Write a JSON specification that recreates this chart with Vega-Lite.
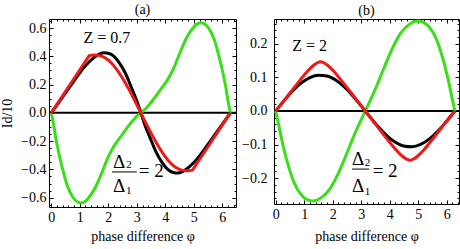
{
 "$schema": "https://vega.github.io/schema/vega-lite/v6.json",
 "padding": {"left": 0, "top": 2, "right": 0, "bottom": 0},
 "spacing": 3,
 "config": {
  "view": {"stroke": "black", "strokeWidth": 1},
  "font": "Liberation Serif",
  "axis": {"labelFont": "Liberation Serif", "titleFont": "Liberation Serif", "labelFontSize": 14, "titleFontSize": 14, "titleFontWeight": "normal", "labelColor": "black", "titleColor": "black", "tickColor": "black", "tickWidth": 1, "grid": false, "domain": false, "labelFlush": false, "labelOverlap": false},
  "title": {"font": "Liberation Serif", "fontSize": 14, "fontWeight": "normal", "color": "black", "offset": -3},
  "line": {"strokeWidth": 3, "interpolate": "monotone"}
 },
 "datasets": {
  "a": [
   {"p":0,"v":0,"c":"g"},{"p":0.08,"v":-0.08,"c":"g"},{"p":0.16,"v":-0.18,"c":"g"},{"p":0.28,"v":-0.3,"c":"g"},{"p":0.4,"v":-0.4,"c":"g"},{"p":0.57,"v":-0.52,"c":"g"},{"p":0.75,"v":-0.595,"c":"g"},{"p":0.9,"v":-0.628,"c":"g"},{"p":1.04,"v":-0.638,"c":"g"},{"p":1.2,"v":-0.625,"c":"g"},{"p":1.35,"v":-0.59,"c":"g"},{"p":1.54,"v":-0.53,"c":"g"},{"p":1.75,"v":-0.435,"c":"g"},{"p":1.98,"v":-0.32,"c":"g"},{"p":2.2,"v":-0.235,"c":"g"},{"p":2.45,"v":-0.165,"c":"g"},{"p":2.7,"v":-0.095,"c":"g"},{"p":2.9,"v":-0.045,"c":"g"},{"p":3.05,"v":-0.015,"c":"g"},{"p":3.1416,"v":0,"c":"g"},{"p":3.2332,"v":0.015,"c":"g"},{"p":3.3832,"v":0.045,"c":"g"},{"p":3.5832,"v":0.095,"c":"g"},{"p":3.8332,"v":0.165,"c":"g"},{"p":4.0832,"v":0.235,"c":"g"},{"p":4.3032,"v":0.32,"c":"g"},{"p":4.5332,"v":0.435,"c":"g"},{"p":4.7432,"v":0.53,"c":"g"},{"p":4.9332,"v":0.59,"c":"g"},{"p":5.0832,"v":0.625,"c":"g"},{"p":5.2432,"v":0.638,"c":"g"},{"p":5.3832,"v":0.628,"c":"g"},{"p":5.5332,"v":0.595,"c":"g"},{"p":5.7132,"v":0.52,"c":"g"},{"p":5.8832,"v":0.4,"c":"g"},{"p":6.0032,"v":0.3,"c":"g"},{"p":6.1232,"v":0.18,"c":"g"},{"p":6.2032,"v":0.08,"c":"g"},{"p":6.2832,"v":0,"c":"g"},
   {"p":0,"v":0,"c":"k"},{"p":0.3,"v":0.085,"c":"k"},{"p":0.6,"v":0.17,"c":"k"},{"p":0.9,"v":0.255,"c":"k"},{"p":1.1,"v":0.31,"c":"k"},{"p":1.3,"v":0.355,"c":"k"},{"p":1.5,"v":0.392,"c":"k"},{"p":1.7,"v":0.418,"c":"k"},{"p":1.85,"v":0.426,"c":"k"},{"p":2.0,"v":0.422,"c":"k"},{"p":2.2,"v":0.4,"c":"k"},{"p":2.4,"v":0.35,"c":"k"},{"p":2.6,"v":0.28,"c":"k"},{"p":2.8,"v":0.185,"c":"k"},{"p":3.0,"v":0.085,"c":"k"},{"p":3.1416,"v":0,"c":"k"},{"p":3.2832,"v":-0.085,"c":"k"},{"p":3.4832,"v":-0.185,"c":"k"},{"p":3.6832,"v":-0.28,"c":"k"},{"p":3.8832,"v":-0.35,"c":"k"},{"p":4.0832,"v":-0.4,"c":"k"},{"p":4.2832,"v":-0.422,"c":"k"},{"p":4.4332,"v":-0.426,"c":"k"},{"p":4.5832,"v":-0.418,"c":"k"},{"p":4.7832,"v":-0.392,"c":"k"},{"p":4.9832,"v":-0.355,"c":"k"},{"p":5.1832,"v":-0.31,"c":"k"},{"p":5.3832,"v":-0.255,"c":"k"},{"p":5.6832,"v":-0.17,"c":"k"},{"p":5.9832,"v":-0.085,"c":"k"},{"p":6.2832,"v":0,"c":"k"},
   {"p":0,"v":0,"c":"r"},{"p":0.665,"v":0.2025,"c":"r"},{"p":1.2,"v":0.3654,"c":"r"},{"p":1.3,"v":0.3959,"c":"r"},{"p":1.33,"v":0.405,"c":"r"},{"p":1.5,"v":0.41,"c":"r"},{"p":1.7,"v":0.405,"c":"r"},{"p":1.9,"v":0.388,"c":"r"},{"p":2.1,"v":0.355,"c":"r"},{"p":2.3,"v":0.306,"c":"r"},{"p":2.5,"v":0.245,"c":"r"},{"p":2.7,"v":0.175,"c":"r"},{"p":2.9,"v":0.098,"c":"r"},{"p":3.1416,"v":0,"c":"r"},{"p":3.3832,"v":-0.098,"c":"r"},{"p":3.5832,"v":-0.175,"c":"r"},{"p":3.7832,"v":-0.245,"c":"r"},{"p":3.9832,"v":-0.306,"c":"r"},{"p":4.1832,"v":-0.355,"c":"r"},{"p":4.3832,"v":-0.388,"c":"r"},{"p":4.5832,"v":-0.405,"c":"r"},{"p":4.7832,"v":-0.41,"c":"r"},{"p":4.9532,"v":-0.405,"c":"r"},{"p":4.9832,"v":-0.3959,"c":"r"},{"p":5.0832,"v":-0.3654,"c":"r"},{"p":5.6182,"v":-0.2025,"c":"r"},{"p":6.2832,"v":0,"c":"r"}
  ],
  "b": [
   {"p":0,"v":0,"c":"g"},{"p":0.1,"v":-0.04,"c":"g"},{"p":0.25,"v":-0.1,"c":"g"},{"p":0.45,"v":-0.165,"c":"g"},{"p":0.65,"v":-0.215,"c":"g"},{"p":0.9,"v":-0.25,"c":"g"},{"p":1.1,"v":-0.264,"c":"g"},{"p":1.3,"v":-0.268,"c":"g"},{"p":1.6,"v":-0.258,"c":"g"},{"p":1.9,"v":-0.232,"c":"g"},{"p":2.2,"v":-0.185,"c":"g"},{"p":2.5,"v":-0.125,"c":"g"},{"p":2.8,"v":-0.063,"c":"g"},{"p":3.1416,"v":0,"c":"g"},{"p":3.4832,"v":0.063,"c":"g"},{"p":3.7832,"v":0.125,"c":"g"},{"p":4.0832,"v":0.185,"c":"g"},{"p":4.3832,"v":0.232,"c":"g"},{"p":4.6832,"v":0.258,"c":"g"},{"p":4.9832,"v":0.268,"c":"g"},{"p":5.1832,"v":0.264,"c":"g"},{"p":5.3832,"v":0.25,"c":"g"},{"p":5.6332,"v":0.215,"c":"g"},{"p":5.8332,"v":0.165,"c":"g"},{"p":6.0332,"v":0.1,"c":"g"},{"p":6.1832,"v":0.04,"c":"g"},{"p":6.2832,"v":0,"c":"g"},
   {"p":0,"v":0,"c":"k"},{"p":0.3,"v":0.0316,"c":"k"},{"p":0.6,"v":0.0604,"c":"k"},{"p":0.9,"v":0.0838,"c":"k"},{"p":1.2,"v":0.0997,"c":"k"},{"p":1.5,"v":0.1067,"c":"k"},{"p":1.8,"v":0.1042,"c":"k"},{"p":2.1,"v":0.0924,"c":"k"},{"p":2.4,"v":0.0723,"c":"k"},{"p":2.7,"v":0.0457,"c":"k"},{"p":3.0,"v":0.0151,"c":"k"},{"p":3.1416,"v":0,"c":"k"},{"p":3.2832,"v":-0.0151,"c":"k"},{"p":3.5832,"v":-0.0457,"c":"k"},{"p":3.8832,"v":-0.0723,"c":"k"},{"p":4.1832,"v":-0.0924,"c":"k"},{"p":4.4832,"v":-0.1042,"c":"k"},{"p":4.7832,"v":-0.1067,"c":"k"},{"p":5.0832,"v":-0.0997,"c":"k"},{"p":5.3832,"v":-0.0838,"c":"k"},{"p":5.6832,"v":-0.0604,"c":"k"},{"p":5.9832,"v":-0.0316,"c":"k"},{"p":6.2832,"v":0,"c":"k"},
   {"p":0,"v":0,"c":"r"},{"p":0.4,"v":0.043,"c":"r"},{"p":0.8,"v":0.086,"c":"r"},{"p":1.1,"v":0.117,"c":"r"},{"p":1.3,"v":0.134,"c":"r"},{"p":1.45,"v":0.143,"c":"r"},{"p":1.5708,"v":0.147,"c":"r"},{"p":1.7,"v":0.143,"c":"r"},{"p":1.85,"v":0.134,"c":"r"},{"p":2.05,"v":0.117,"c":"r"},{"p":2.35,"v":0.086,"c":"r"},{"p":2.75,"v":0.043,"c":"r"},{"p":3.1416,"v":0,"c":"r"},{"p":3.5332,"v":-0.043,"c":"r"},{"p":3.9332,"v":-0.086,"c":"r"},{"p":4.2332,"v":-0.117,"c":"r"},{"p":4.4332,"v":-0.134,"c":"r"},{"p":4.5832,"v":-0.143,"c":"r"},{"p":4.7124,"v":-0.147,"c":"r"},{"p":4.8332,"v":-0.143,"c":"r"},{"p":4.9832,"v":-0.134,"c":"r"},{"p":5.1832,"v":-0.117,"c":"r"},{"p":5.4832,"v":-0.086,"c":"r"},{"p":5.8832,"v":-0.043,"c":"r"},{"p":6.2832,"v":0,"c":"r"}
  ]
 },
 "hconcat": [
  {
   "width": 187, "height": 188,
   "title": "(a)",
   "resolve": {"axis": {"x": "independent", "y": "independent"}},
   "layer": [
    {"data": {"values": [{}]}, "mark": {"type": "rule", "color": "black", "strokeWidth": 2}, "encoding": {"y": {"datum": 0, "type": "quantitative", "axis": null}}},
    {"data": {"name": "a"}, "mark": "line", "encoding": {
      "x": {"field": "p", "type": "quantitative", "scale": {"domain": [-0.08, 6.48], "nice": false, "zero": false},
            "axis": {"orient": "bottom", "values": [0,0.2,0.4,0.6,0.8,1,1.2,1.4,1.6,1.8,2,2.2,2.4,2.6,2.8,3,3.2,3.4,3.6,3.8,4,4.2,4.4,4.6,4.8,5,5.2,5.4,5.6,5.8,6,6.2,6.4],
                     "labelExpr": "abs(datum.value-round(datum.value))<0.001 ? format(datum.value,'d') : ''",
                     "tickSize": {"condition": {"test": "abs(datum.value-round(datum.value))<0.001", "value": -4}, "value": -2},
                     "labelPadding": 7, "title": "phase difference φ", "titlePadding": 3}},
      "y": {"field": "v", "type": "quantitative", "scale": {"domain": [-0.666, 0.664], "nice": false, "zero": false},
            "axis": {"orient": "left", "values": [-0.65,-0.6,-0.55,-0.5,-0.45,-0.4,-0.35,-0.3,-0.25,-0.2,-0.15,-0.1,-0.05,0,0.05,0.1,0.15,0.2,0.25,0.3,0.35,0.4,0.45,0.5,0.55,0.6,0.65],
                     "labelExpr": "abs(datum.value*5-round(datum.value*5))<0.001 ? format(datum.value,'.1f') : ''",
                     "tickSize": {"condition": {"test": "abs(datum.value*5-round(datum.value*5))<0.001", "value": -4}, "value": -2},
                     "labelPadding": 7, "title": "Id/10", "titlePadding": 6}},
      "color": {"field": "c", "type": "nominal", "scale": {"domain": ["g","k","r"], "range": ["#3ade1a","#000000","#f01818"]}, "legend": null}
    }},
    {"data": {"name": "a"}, "mark": {"type": "point", "opacity": 0}, "encoding": {
      "x": {"field": "p", "type": "quantitative", "scale": {"domain": [-0.08, 6.48], "nice": false, "zero": false},
            "axis": {"orient": "top", "values": [0,0.2,0.4,0.6,0.8,1,1.2,1.4,1.6,1.8,2,2.2,2.4,2.6,2.8,3,3.2,3.4,3.6,3.8,4,4.2,4.4,4.6,4.8,5,5.2,5.4,5.6,5.8,6,6.2,6.4], "labels": false, "title": null,
                     "tickSize": {"condition": {"test": "abs(datum.value-round(datum.value))<0.001", "value": -4}, "value": -2}}},
      "y": {"field": "v", "type": "quantitative", "scale": {"domain": [-0.666, 0.664], "nice": false, "zero": false},
            "axis": {"orient": "right", "values": [-0.65,-0.6,-0.55,-0.5,-0.45,-0.4,-0.35,-0.3,-0.25,-0.2,-0.15,-0.1,-0.05,0,0.05,0.1,0.15,0.2,0.25,0.3,0.35,0.4,0.45,0.5,0.55,0.6,0.65], "labels": false, "title": null,
                     "tickSize": {"condition": {"test": "abs(datum.value*5-round(datum.value*5))<0.001", "value": -4}, "value": -2}}}
    }},
    {"data": {"values": [{}]}, "mark": {"type": "text", "font": "Liberation Serif", "fontSize": 16, "align": "center", "baseline": "middle", "color": "black"},
     "encoding": {"x": {"datum": 1.95, "type": "quantitative", "axis": null}, "y": {"datum": 0.53, "type": "quantitative", "axis": null}, "text": {"value": "Z = 0.7"}}},
    {"data": {"values": [{}]}, "mark": {"type": "text", "font": "Liberation Serif", "fontSize": 19, "align": "center", "baseline": "middle", "color": "black"},
     "encoding": {"x": {"datum": 2.38, "type": "quantitative", "axis": null}, "y": {"datum": -0.345, "type": "quantitative", "axis": null}, "text": {"value": "Δ"}}},
    {"data": {"values": [{}]}, "mark": {"type": "text", "font": "Liberation Serif", "fontSize": 11, "align": "center", "baseline": "middle", "color": "black"},
     "encoding": {"x": {"datum": 2.73, "type": "quantitative", "axis": null}, "y": {"datum": -0.372, "type": "quantitative", "axis": null}, "text": {"value": "2"}}},
    {"data": {"values": [{}]}, "mark": {"type": "rule", "color": "black", "strokeWidth": 1},
     "encoding": {"x": {"datum": 2.13, "type": "quantitative", "axis": null}, "x2": {"datum": 3.0}, "y": {"datum": -0.418, "type": "quantitative", "axis": null}}},
    {"data": {"values": [{}]}, "mark": {"type": "text", "font": "Liberation Serif", "fontSize": 19, "align": "center", "baseline": "middle", "color": "black"},
     "encoding": {"x": {"datum": 2.38, "type": "quantitative", "axis": null}, "y": {"datum": -0.52, "type": "quantitative", "axis": null}, "text": {"value": "Δ"}}},
    {"data": {"values": [{}]}, "mark": {"type": "text", "font": "Liberation Serif", "fontSize": 11, "align": "center", "baseline": "middle", "color": "black"},
     "encoding": {"x": {"datum": 2.72, "type": "quantitative", "axis": null}, "y": {"datum": -0.555, "type": "quantitative", "axis": null}, "text": {"value": "1"}}},
    {"data": {"values": [{}]}, "mark": {"type": "text", "font": "Liberation Serif", "fontSize": 19, "align": "left", "baseline": "middle", "color": "black"},
     "encoding": {"x": {"datum": 3.07, "type": "quantitative", "axis": null}, "y": {"datum": -0.413, "type": "quantitative", "axis": null}, "text": {"value": "= 2"}}}
   ]
  },
  {
   "width": 185, "height": 185,
   "title": "(b)",
   "resolve": {"axis": {"x": "independent", "y": "independent"}},
   "layer": [
    {"data": {"values": [{}]}, "mark": {"type": "rule", "color": "black", "strokeWidth": 2}, "encoding": {"y": {"datum": 0, "type": "quantitative", "axis": null}}},
    {"data": {"name": "b"}, "mark": "line", "encoding": {
      "x": {"field": "p", "type": "quantitative", "scale": {"domain": [-0.06, 6.43], "nice": false, "zero": false},
            "axis": {"orient": "bottom", "values": [0,0.2,0.4,0.6,0.8,1,1.2,1.4,1.6,1.8,2,2.2,2.4,2.6,2.8,3,3.2,3.4,3.6,3.8,4,4.2,4.4,4.6,4.8,5,5.2,5.4,5.6,5.8,6,6.2,6.4],
                     "labelExpr": "abs(datum.value-round(datum.value))<0.001 ? format(datum.value,'d') : ''",
                     "tickSize": {"condition": {"test": "abs(datum.value-round(datum.value))<0.001", "value": -4}, "value": -2},
                     "labelPadding": 7, "title": "phase difference φ", "titlePadding": 6}},
      "y": {"field": "v", "type": "quantitative", "scale": {"domain": [-0.277, 0.274], "nice": false, "zero": false},
            "axis": {"orient": "left", "values": [-0.26,-0.24,-0.22,-0.2,-0.18,-0.16,-0.14,-0.12,-0.1,-0.08,-0.06,-0.04,-0.02,0,0.02,0.04,0.06,0.08,0.1,0.12,0.14,0.16,0.18,0.2,0.22,0.24,0.26],
                     "labelExpr": "abs(datum.value*10-round(datum.value*10))<0.001 ? format(datum.value,'.1f') : ''",
                     "tickSize": {"condition": {"test": "abs(datum.value*10-round(datum.value*10))<0.001", "value": -4}, "value": -2},
                     "labelPadding": 11, "title": null}},
      "color": {"field": "c", "type": "nominal", "scale": {"domain": ["g","k","r"], "range": ["#3ade1a","#000000","#f01818"]}, "legend": null}
    }},
    {"data": {"name": "b"}, "mark": {"type": "point", "opacity": 0}, "encoding": {
      "x": {"field": "p", "type": "quantitative", "scale": {"domain": [-0.06, 6.43], "nice": false, "zero": false},
            "axis": {"orient": "top", "values": [0,0.2,0.4,0.6,0.8,1,1.2,1.4,1.6,1.8,2,2.2,2.4,2.6,2.8,3,3.2,3.4,3.6,3.8,4,4.2,4.4,4.6,4.8,5,5.2,5.4,5.6,5.8,6,6.2,6.4], "labels": false, "title": null,
                     "tickSize": {"condition": {"test": "abs(datum.value-round(datum.value))<0.001", "value": -4}, "value": -2}}},
      "y": {"field": "v", "type": "quantitative", "scale": {"domain": [-0.277, 0.274], "nice": false, "zero": false},
            "axis": {"orient": "right", "values": [-0.26,-0.24,-0.22,-0.2,-0.18,-0.16,-0.14,-0.12,-0.1,-0.08,-0.06,-0.04,-0.02,0,0.02,0.04,0.06,0.08,0.1,0.12,0.14,0.16,0.18,0.2,0.22,0.24,0.26], "labels": false, "title": null,
                     "tickSize": {"condition": {"test": "abs(datum.value*10-round(datum.value*10))<0.001", "value": -4}, "value": -2}}}
    }},
    {"data": {"values": [{}]}, "mark": {"type": "text", "font": "Liberation Serif", "fontSize": 16, "align": "center", "baseline": "middle", "color": "black"},
     "encoding": {"x": {"datum": 1.19, "type": "quantitative", "axis": null}, "y": {"datum": 0.194, "type": "quantitative", "axis": null}, "text": {"value": "Z = 2"}}},
    {"data": {"values": [{}]}, "mark": {"type": "text", "font": "Liberation Serif", "fontSize": 19, "align": "center", "baseline": "middle", "color": "black"},
     "encoding": {"x": {"datum": 2.89, "type": "quantitative", "axis": null}, "y": {"datum": -0.143, "type": "quantitative", "axis": null}, "text": {"value": "Δ"}}},
    {"data": {"values": [{}]}, "mark": {"type": "text", "font": "Liberation Serif", "fontSize": 11, "align": "center", "baseline": "middle", "color": "black"},
     "encoding": {"x": {"datum": 3.22, "type": "quantitative", "axis": null}, "y": {"datum": -0.156, "type": "quantitative", "axis": null}, "text": {"value": "2"}}},
    {"data": {"values": [{}]}, "mark": {"type": "rule", "color": "black", "strokeWidth": 1},
     "encoding": {"x": {"datum": 2.68, "type": "quantitative", "axis": null}, "x2": {"datum": 3.28}, "y": {"datum": -0.173, "type": "quantitative", "axis": null}}},
    {"data": {"values": [{}]}, "mark": {"type": "text", "font": "Liberation Serif", "fontSize": 19, "align": "center", "baseline": "middle", "color": "black"},
     "encoding": {"x": {"datum": 2.89, "type": "quantitative", "axis": null}, "y": {"datum": -0.224, "type": "quantitative", "axis": null}, "text": {"value": "Δ"}}},
    {"data": {"values": [{}]}, "mark": {"type": "text", "font": "Liberation Serif", "fontSize": 11, "align": "center", "baseline": "middle", "color": "black"},
     "encoding": {"x": {"datum": 3.22, "type": "quantitative", "axis": null}, "y": {"datum": -0.24, "type": "quantitative", "axis": null}, "text": {"value": "1"}}},
    {"data": {"values": [{}]}, "mark": {"type": "text", "font": "Liberation Serif", "fontSize": 19, "align": "left", "baseline": "middle", "color": "black"},
     "encoding": {"x": {"datum": 3.4, "type": "quantitative", "axis": null}, "y": {"datum": -0.18, "type": "quantitative", "axis": null}, "text": {"value": "= 2"}}}
   ]
  }
 ]
}
